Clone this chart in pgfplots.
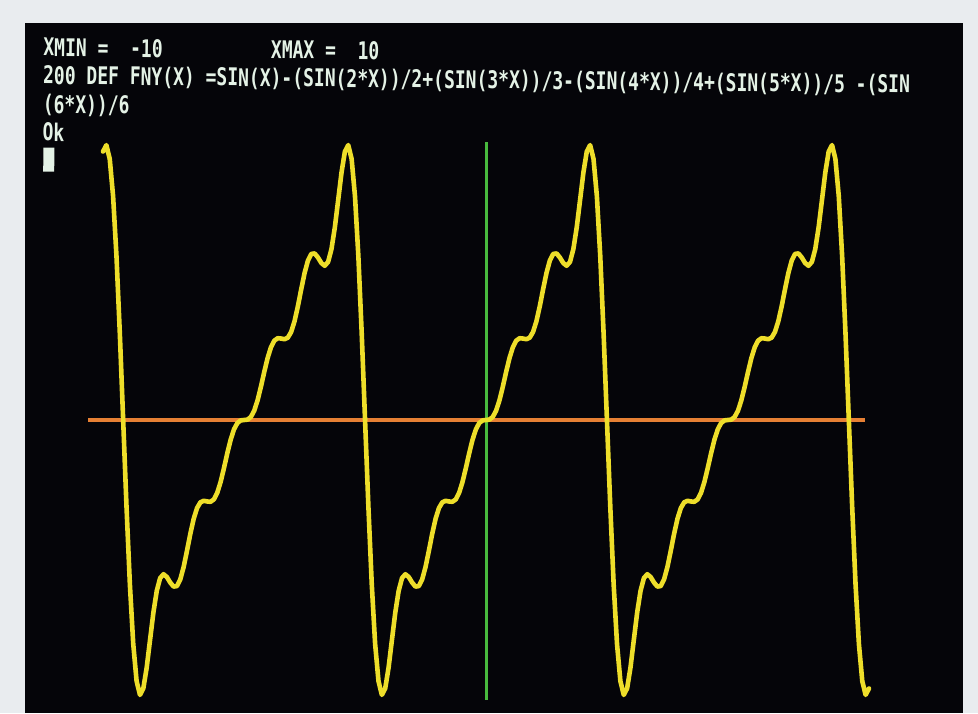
\documentclass[border=0pt]{standalone}
\usepackage{fontspec}
\usepackage{pgfplots}
\usepackage{pgfplotstable}
\pgfplotsset{compat=1.18}
\newfontfamily\crt{DejaVu Sans Mono}
\definecolor{screen}{RGB}{5,5,9}
\definecolor{frame}{RGB}{233,236,239}
\definecolor{crtwhite}{RGB}{228,242,230}
\definecolor{trace}{RGB}{238,222,42}
\definecolor{xaxis}{RGB}{230,128,52}
\definecolor{yaxis}{RGB}{72,186,62}

% one period of FNY, x in degrees
\pgfplotstableread{
deg f
-180 0
-175 -0.51361
-170 -0.96958
-165 -1.32089
-160 -1.53960
-155 -1.62098
-150 -1.58285
-145 -1.46021
-140 -1.29664
-135 -1.13472
-130 -1.00732
-125 -0.93200
-120 -0.90932
-115 -0.92547
-110 -0.95783
-105 -0.98215
-100 -0.97934
-95 -0.94011
-90 -0.86667
-85 -0.77083
-80 -0.67004
-75 -0.58183
-70 -0.51875
-65 -0.48517
-60 -0.47632
-55 -0.48036
-50 -0.48222
-45 -0.46806
-40 -0.42950
-35 -0.36577
-30 -0.28381
-25 -0.19588
-20 -0.11572
-15 -0.05453
-10 -0.01748
-5 -0.00229
0 0
5 0.00229
10 0.01748
15 0.05453
20 0.11572
25 0.19588
30 0.28381
35 0.36577
40 0.42950
45 0.46806
50 0.48222
55 0.48036
60 0.47632
65 0.48517
70 0.51875
75 0.58183
80 0.67004
85 0.77083
90 0.86667
95 0.94011
100 0.97934
105 0.98215
110 0.95783
115 0.92547
120 0.90932
125 0.93200
130 1.00732
135 1.13472
140 1.29664
145 1.46021
150 1.58285
155 1.62098
160 1.53960
165 1.32089
170 0.96958
175 0.51361
180 0
}\period

\begin{document}
\begin{tikzpicture}[x=0.5pt,y=0.5pt]
\fill[frame] (0,0) rectangle (978,713);
\fill[screen] (25,0) rectangle (963,690);
\begin{axis}[
    at={(12.5pt,0pt)}, anchor=south west,
    scale only axis,
    width=469pt, height=345pt,
    xmin=-686.1, xmax=709.9,
    ymin=-1.7276, ymax=2.3408,
    hide axis,
    clip=true,
]
\addplot[xaxis, line width=1.8pt] coordinates {(-592.3,0) (564,0)};
\addplot[yaxis, line width=1.5pt] coordinates {(0,-1.65) (0,1.639)};
\pgfplotsinvokeforeach{-2,-1,0,1,2}{
  \addplot[trace, line width=2.3pt, line join=round, line cap=round,
    restrict x to domain=-573:573]
    table[x expr=\thisrow{deg}+360*(#1), y=f] {\period};
}
\end{axis}
\begin{scope}[rotate around={-0.6:(43,657)}, transform shape, crtwhite,
    every node/.style={anchor=base west, inner sep=0pt},
    font=\crt\bfseries\fontsize{9}{9}\selectfont]
\node at (43,657) {\scalebox{1}[1.35]{XMIN =~~-10~~~~~~~~~~XMAX =~~10}};
\node at (43,629) {\scalebox{1}[1.35]{200 DEF FNY(X) =SIN(X)-(SIN(2*X))/2+(SIN(3*X))/3-(SIN(4*X))/4+(SIN(5*X))/5 -(SIN}};
\node at (43,600) {\scalebox{1}[1.35]{(6*X))/6}};
\node at (43,572) {\scalebox{1}[1.35]{Ok}};
\node[anchor=south west] at (44,541) {\rule{5.5pt}{12pt}};
\end{scope}
\end{tikzpicture}
\end{document}
